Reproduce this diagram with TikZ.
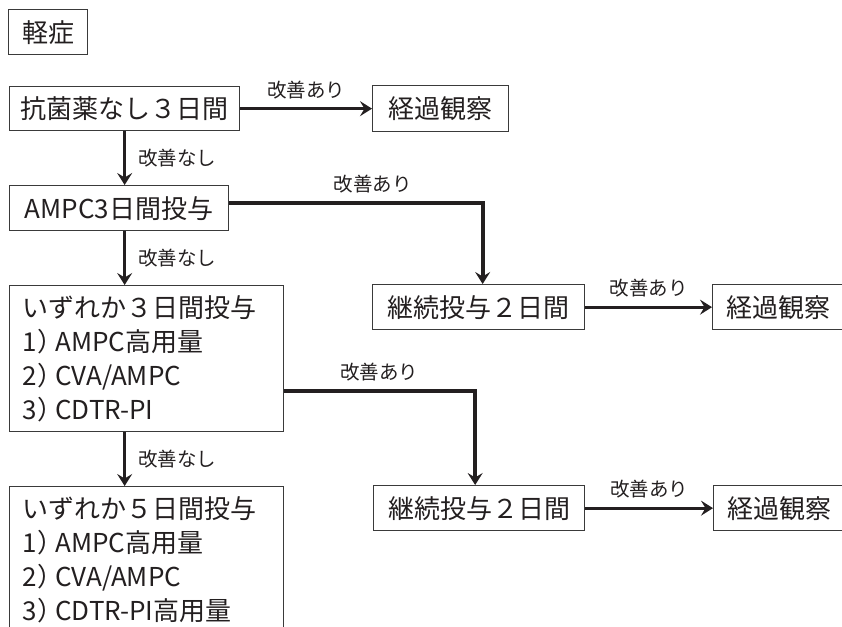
\documentclass[tikz,border=0pt]{standalone}
\usepackage{fontspec}
\setmainfont{Noto Sans CJK JP}
\usetikzlibrary{arrows.meta}
\definecolor{ink}{HTML}{231F20}
\definecolor{frame}{HTML}{3A3A3A}
\newcommand{\pk}{\kern-.3em}
\begin{document}
\begin{tikzpicture}[x=1pt,y=-1pt,
 box/.style={draw=frame,line width=1.3pt,text=ink,inner sep=0pt,anchor=north west,font=\fontsize{26}{34}\selectfont},
 lab/.style={text=ink,font=\fontsize{19.5}{22}\selectfont,inner sep=0pt},
 arr/.style={draw=ink,line width=3.2pt,-{Stealth[length=12pt,width=15pt,inset=4.5pt]}},
]
\useasboundingbox (0,0) rectangle (842,626);
\clip (0,0) rectangle (842,626);
\node[box,minimum width=79pt,minimum height=45pt] (sev) at (8,9) {軽症};
\node[box,minimum width=230pt,minimum height=44pt] (b1) at (9,86) {抗菌薬なし３日間};
\node[box,minimum width=136pt,minimum height=46pt] (k1) at (372,85) {経過観察};
\node[box,minimum width=219pt,minimum height=45pt] (b2) at (9,185) {AMPC3日間投与};
\node[box,minimum width=212pt,minimum height=45pt] (c1) at (372,284) {継続投与２日間};
\node[box,minimum width=131.5pt,minimum height=45pt] (k2) at (712,284) {経過観察};
\node[box,minimum width=274pt,minimum height=146pt,text width=248pt,align=left] (b3) at (9,285)
 {いずれか３日間投与\\1）\pk AMPC高用量\\2）\pk CVA/AMPC\\3）\pk CDTR-PI};
\node[box,minimum width=211pt,minimum height=45pt] (c2) at (373,485) {継続投与２日間};
\node[box,minimum width=131.5pt,minimum height=45pt] (k3) at (713,485) {経過観察};
\node[box,minimum width=274pt,minimum height=146pt,text width=248pt,align=left] (b4) at (9,486)
 {いずれか５日間投与\\1）\pk AMPC高用量\\2）\pk CVA/AMPC\\3）\pk CDTR-PI高用量};

\draw[arr] (b1.east) -- node[lab,midway,above=8pt] {改善あり} (k1.west);
\draw[arr] (b1.south) -- node[lab,midway,right=12pt] {改善なし} (b1.south |- b2.north);
\draw[arr] (b1.south |- b2.south) -- node[lab,midway,right=12pt] {改善なし} (b1.south |- b3.north);
\draw[arr] (b1.south |- b3.south) -- node[lab,midway,right=12pt] {改善なし} (b1.south |- b4.north);
\draw[arr,line width=3.8pt] ([yshift=5.5pt]b2.east) -| node[lab,pos=0.283,above=8pt] {改善あり} ([xshift=4pt]c1.north);
\draw[arr,line width=3.8pt] ([yshift=-32pt]b3.east) -| node[lab,pos=0.249,above=8pt] {改善あり} ([xshift=-4pt]c2.north);
\draw[arr] (c1.east) -- node[lab,midway,above=8pt] {改善あり} (k2.west);
\draw[arr] (c2.east) -- node[lab,midway,above=8pt] {改善あり} (k3.west);
\end{tikzpicture}
\end{document}
